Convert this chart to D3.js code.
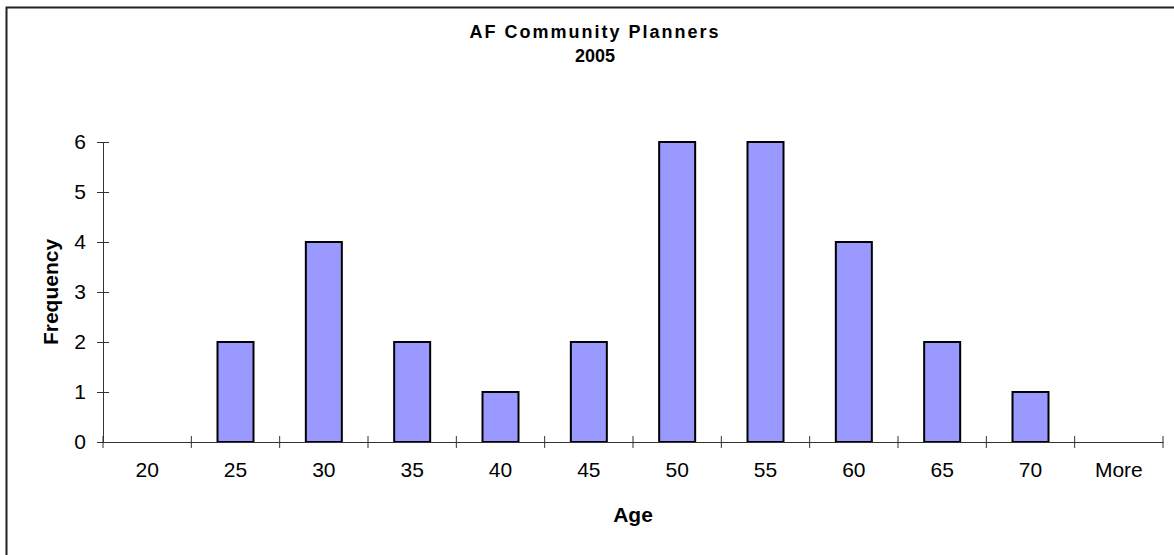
<!DOCTYPE html>

<meta charset="utf-8">

<style>
body {
  margin: 0;
  background: white;
}
text {
  font-family: "Liberation Sans", Arial, sans-serif;
  fill: black;
}
</style>

<div id="my_dataviz"></div>

<script src="https://d3js.org/d3.v7.min.js"></script>

<script>

//Age bins and frequency per bin
var ages = ["20", "25", "30", "35", "40", "45", "50", "55", "60", "65", "70", "More"]
var frequency = [0, 2, 4, 2, 1, 2, 6, 6, 4, 2, 1, 0]
var yTicks = [0, 1, 2, 3, 4, 5, 6]

//Margins of the plot area
var margin = {top: 142, right: 11, bottom: 113, left: 103},
    width = 1174 - margin.left - margin.right,
    height = 555 - margin.top - margin.bottom;

var svg = d3.select("#my_dataviz")
  .append("svg")
    .attr("width", 1174)
    .attr("height", 555)

//Outer chart frame (only top and left are inside the picture)
svg.append("rect")
  .attr("x", 6.5)
  .attr("y", 7.5)
  .attr("width", 1300)
  .attr("height", 700)
  .style("fill", "white")
  .style("stroke", "#222")
  .style("stroke-width", 2)

var g = svg.append("g")
  .attr("transform", "translate(" + margin.left + "," + margin.top + ")");

//Scales
var x = d3.scaleBand()
  .domain(ages)
  .range([0, width])
  .padding(0)
var y = d3.scaleLinear()
  .domain([0, 6])
  .range([height, 0])

//Bars
g.selectAll("bar")
  .data(frequency)
  .enter()
  .append("rect")
    .attr("x", function(d, i) { return x(ages[i]) + x.bandwidth() / 2 - 18; })
    .attr("y", function(d) { return y(d); })
    .attr("width", 36)
    .attr("height", function(d) { return height - y(d); })
    .style("fill", "#9999FF")
    .style("stroke", function(d) { return d > 0 ? "black" : "none"; })
    .style("stroke-width", 2)

//Y axis
var yAxis = g.append("g")
  .call(d3.axisLeft(y).tickValues(yTicks).tickFormat(d3.format("d")).tickSizeOuter(0).tickPadding(11))
yAxis.select(".domain").attr("stroke", "#333")
yAxis.selectAll(".tick line").attr("x1", -6).attr("x2", 6).attr("stroke", "#333")
yAxis.selectAll(".tick text")
  .style("font-size", "21px")
  .style("font-family", "'Liberation Sans', Arial, sans-serif")

//X axis line with labels at band centres
var xAxis = g.append("g")
  .attr("transform", "translate(0," + height + ")")
  .call(d3.axisBottom(x).tickSize(0).tickPadding(20))
xAxis.select(".domain").attr("stroke", "#333")
xAxis.selectAll(".tick text")
  .style("font-size", "21px")
  .style("font-family", "'Liberation Sans', Arial, sans-serif")

//X tick marks sit on the band edges
var edges = ages.map(function(d) { return x(d); }).concat([width])
xAxis.selectAll("edgeTick")
  .data(edges)
  .enter()
  .append("line")
    .attr("x1", function(d) { return d; })
    .attr("x2", function(d) { return d; })
    .attr("y1", -6)
    .attr("y2", 6)
    .attr("stroke", "#333")

//Title
svg.append("text")
  .attr("x", 595)
  .attr("y", 38)
  .attr("text-anchor", "middle")
  .style("font-size", "18px")
  .style("font-weight", "bold")
  .style("letter-spacing", "2px")
  .text("AF Community Planners")
svg.append("text")
  .attr("x", 595)
  .attr("y", 62)
  .attr("text-anchor", "middle")
  .style("font-size", "18px")
  .style("font-weight", "bold")
  .text("2005")

//Axis titles
svg.append("text")
  .attr("x", margin.left + width / 2)
  .attr("y", 522)
  .attr("text-anchor", "middle")
  .style("font-size", "21px")
  .style("font-weight", "bold")
  .text("Age")
svg.append("text")
  .attr("transform", "translate(58," + (margin.top + height / 2) + ")rotate(-90)")
  .attr("text-anchor", "middle")
  .style("font-size", "21px")
  .style("font-weight", "bold")
  .text("Frequency")

</script>
